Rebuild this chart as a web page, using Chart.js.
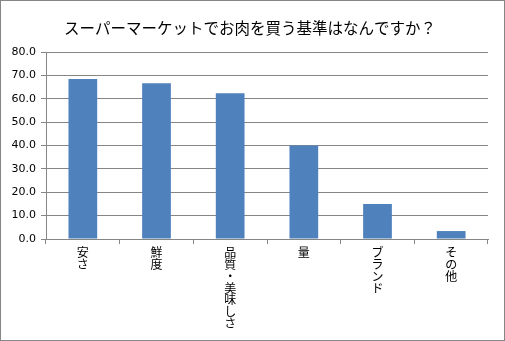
<!DOCTYPE html>
<html>
<head>
<meta charset="utf-8">
<script src="https://cdn.jsdelivr.net/npm/chart.js@4"></script>
<style>
  html, body { margin: 0; padding: 0; background: #fff; }
  #wrap { width: 505px; height: 341px; }
</style>
</head>
<body>
<div id="wrap"><canvas id="c"></canvas></div>
<script>
// Data
const title = 'スーパーマーケットでお肉を買う基準はなんですか？';
const categories = ['安さ', '鮮度', '品質・美味しさ', '量', 'ブランド', 'その他'];
const values = [68.4, 66.6, 62.4, 40.0, 15.0, 3.4];
const yMin = 0;
const yMax = 80;
const yStep = 10;

// Vertical (stacked) text: one character per line
const stackedLabels = categories.map(s => Array.from(s));

// Grey frame round the whole picture, plus the title (sits a bit right of centre)
const framePlugin = {
  id: 'frame',
  afterDraw(chart) {
    const ctx = chart.ctx;
    ctx.save();
    ctx.strokeStyle = '#868686';
    ctx.lineWidth = 1;
    ctx.strokeRect(0.5, 0.5, chart.width - 1, chart.height - 1);
    ctx.fillStyle = '#000';
    ctx.font = '15.5px "Noto Sans CJK JP"';
    ctx.textAlign = 'center';
    ctx.textBaseline = 'middle';
    ctx.fillText(title, 250, 28);
    ctx.restore();
  }
};

const ctx = document.getElementById('c').getContext('2d');
new Chart(ctx, {
  type: 'bar',
  data: {
    labels: stackedLabels,
    datasets: [{
      data: values,
      backgroundColor: '#4F81BD',
      borderWidth: 0,
      categoryPercentage: 1,
      barPercentage: 0.39
    }]
  },
  options: {
    responsive: true,
    maintainAspectRatio: false,
    animation: false,
    layout: { padding: { left: 0, right: 17, top: 52, bottom: 0 } },
    plugins: {
      legend: { display: false },
      tooltip: { enabled: false },
      title: { display: false }
    },
    scales: {
      x: {
        afterFit(scale) { scale.height = 102; },
        grid: {
          drawOnChartArea: false,
          drawTicks: true,
          tickLength: 5,
          color: '#868686'
        },
        border: { color: '#868686' },
        ticks: {
          maxRotation: 0,
          minRotation: 0,
          padding: 3,
          color: '#000',
          font: { family: '"Noto Sans CJK JP"', size: 12, lineHeight: 0.98 }
        }
      },
      y: {
        min: yMin,
        max: yMax,
        afterFit(scale) { scale.width = 46; },
        grid: {
          color: '#868686',
          tickLength: 5
        },
        border: { color: '#868686' },
        ticks: {
          stepSize: yStep,
          padding: 5,
          color: '#000',
          font: { family: '"DejaVu Sans"', size: 11 },
          callback: v => v.toFixed(1)
        }
      }
    }
  },
  plugins: [framePlugin]
});
</script>
</body>
</html>
